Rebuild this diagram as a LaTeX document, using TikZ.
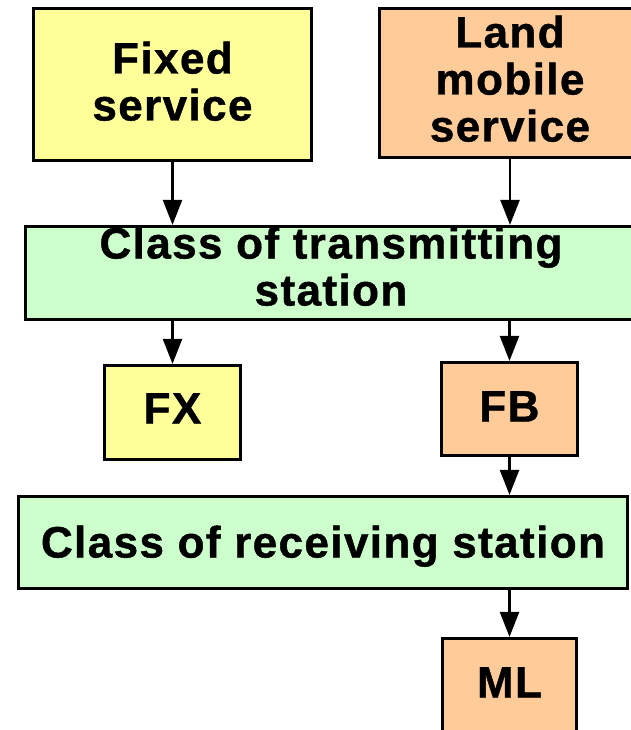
\documentclass[tikz,border=0pt]{standalone}
\usepackage{fontspec}
\setmainfont{Liberation Sans}[LetterSpace=3.2, BoldFeatures={FakeBold=1}]
\usetikzlibrary{arrows.meta}

\definecolor{boxyellow}{HTML}{FFFF99}
\definecolor{boxorange}{HTML}{FFCC99}
\definecolor{boxgreen}{HTML}{CCFFCC}

\tikzset{
  box/.style={draw=black, line width=3.2pt, rectangle, inner sep=0pt,
    align=center,
    font=\fontsize{44pt}{47pt}\selectfont\bfseries},
  fixedbox/.style={box, fill=boxyellow},
  mobilebox/.style={box, fill=boxorange},
  classbox/.style={box, fill=boxgreen},
  flow/.style={draw=black, line width=2.4pt,
    -{Triangle[length=25pt, width=19pt]}}
}

\begin{document}
\begin{tikzpicture}[x=1pt, y=-1pt]
  \useasboundingbox (0,0) rectangle (631,730);

  % services
  \node[fixedbox, minimum width=278pt, minimum height=152pt,
        text height=79pt, text depth=7pt]
    (fixed) at (172.5,84.5) {Fixed\\service};
  \node[mobilebox, minimum width=261pt, minimum height=149pt,
        text height=126pt, text depth=9pt]
    (land) at (510,83) {Land\\mobile\\service};

  % class of transmitting station
  \node[classbox, minimum width=611pt, minimum height=93pt,
        text height=79pt, text depth=14pt]
    (trans) at (331,273) {Class of transmitting\\station};

  % station classes
  \node[fixedbox, minimum width=136pt, minimum height=94pt,
        text height=32pt, text depth=10pt]
    (fx) at (172.5,412.5) {FX};
  \node[mobilebox, minimum width=136pt, minimum height=93pt,
        text height=32pt, text depth=7pt]
    (fb) at (509.5,409) {FB};

  % class of receiving station
  \node[classbox, minimum width=609pt, minimum height=92pt,
        text height=32pt, text depth=2pt]
    (recv) at (323,542.5) {Class of receiving station};

  \node[mobilebox, minimum width=134pt, minimum height=93pt,
        text height=32pt, text depth=7pt]
    (ml) at (509.5,685) {ML};

  % connectors
  \draw[flow] (fixed.south) -- (fixed.south |- trans.north);
  \draw[flow] (land.south) -- (land.south |- trans.north);
  \draw[flow] (fx.north |- trans.south) -- (fx.north);
  \draw[flow] (fb.north |- trans.south) -- (fb.north);
  \draw[flow] (fb.south) -- (fb.south |- recv.north);
  \draw[flow] (ml.north |- recv.south) -- (ml.north);
\end{tikzpicture}
\end{document}
